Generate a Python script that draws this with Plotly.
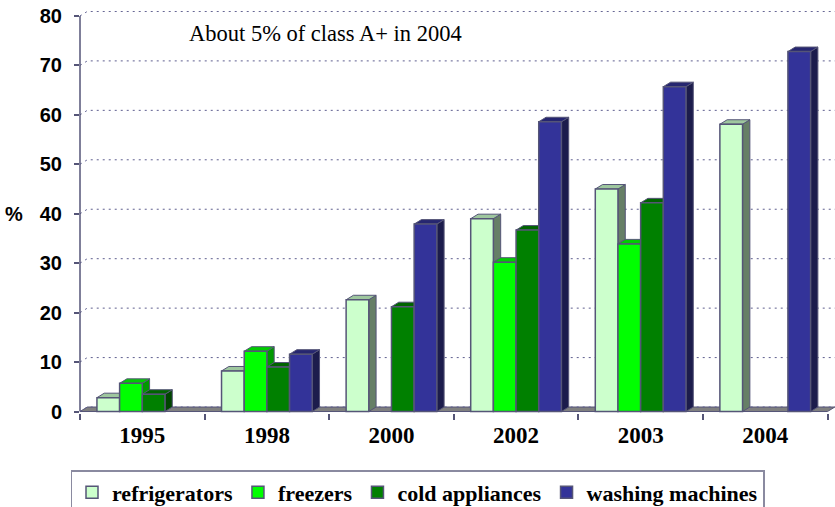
import plotly.graph_objects as go

# ---------------- data ----------------
years = ["1995", "1998", "2000", "2002", "2003", "2004"]
refrigerators = [2.8, 8.2, 22.6, 39.0, 45.0, 58.1]
freezers = [5.7, 12.2, None, 30.2, 33.9, None]
cold_appliances = [3.5, 9.0, 21.2, 36.7, 42.2, None]
washing_machines = [None, 11.6, 37.9, 58.6, 65.7, 72.8]
series_names = ["refrigerators", "freezers", "cold appliances", "washing machines"]
y_ticks = [0, 10, 20, 30, 40, 50, 60, 70, 80]
note_text = "About 5% of class A+ in 2004"
y_label = "%"

# ---------------- styles ----------------
series_values = [refrigerators, freezers, cold_appliances, washing_machines]
front_colors = ["#CCFFCC", "#00FF00", "#008000", "#333399"]
top_colors = ["#9EC79E", "#00CC00", "#006400", "#262670"]
side_colors = ["#667F66", "#009900", "#004500", "#1C1C4C"]
edge_color = "#555577"
grid_color = "#5F5F8F"
serif = "Liberation Serif, Times New Roman, serif"
sans = "Liberation Sans, Arial, sans-serif"

W, H = 835, 507
bargap = 0.272
n_series = len(series_values)
bw = (1 - bargap) / n_series          # bar width in category units
y_min, y_max = -0.3, 81
px_per_unit = 4.955
plot_left = 80
plot_w = W - plot_left
x_min = -0.5
x_max = len(years) - 0.5 + 0.06
px_per_cat = plot_w / (x_max - x_min)
dx = 7.3 / px_per_cat                  # 3D depth, horizontal (category units)
dy = 4.5 / px_per_unit                 # 3D depth, vertical (value units)
zero_px = 412
m_top = zero_px - (y_max - 0) * px_per_unit
m_bot = H - (zero_px + (0 - y_min) * px_per_unit)

fig = go.Figure()
for name, vals, fc in zip(series_names, series_values, front_colors):
    fig.add_trace(go.Bar(
        name=name, x=years, y=vals,
        marker=dict(color=fc, line=dict(color=edge_color, width=1.5)),
    ))

shapes = []
# floor
n_cat = len(years)
shapes.append(dict(
    type="path", xref="x", yref="y", layer="below",
    path=f"M {x_min},0 L {n_cat - 0.5},0 L {n_cat - 0.5 + dx},{dy} L {x_min + dx},{dy} Z",
    fillcolor="#808080", line=dict(color=edge_color, width=1),
))
# back-wall gridlines
for t in y_ticks:
    shapes.append(dict(
        type="path", xref="x", yref="y", layer="below",
        path=f"M {x_min},{t} L {x_min + dx},{t + dy} L {x_max},{t + dy}",
        line=dict(color=grid_color, width=1, dash="2px,4px"),
    ))
# top and side faces of the bars
for c in range(n_cat):
    for s, vals in enumerate(series_values):
        v = vals[c]
        if v is None:
            continue
        center = c + (s - (n_series - 1) / 2) * bw
        x0, x1 = center - bw / 2, center + bw / 2
        shapes.append(dict(
            type="path", xref="x", yref="y", layer="below",
            path=f"M {x1},0 L {x1},{v} L {x1 + dx},{v + dy} L {x1 + dx},{dy} Z",
            fillcolor=side_colors[s], line=dict(color=edge_color, width=1),
        ))
        shapes.append(dict(
            type="path", xref="x", yref="y", layer="below",
            path=f"M {x0},{v} L {x0 + dx},{v + dy} L {x1 + dx},{v + dy} L {x1},{v} Z",
            fillcolor=top_colors[s], line=dict(color=edge_color, width=1),
        ))
# y axis line (0..80)
shapes.append(dict(
    type="line", xref="paper", yref="y", x0=0, x1=0, y0=0, y1=y_ticks[-1],
    line=dict(color=edge_color, width=1.5), layer="above",
))

fig.update_layout(
    width=W, height=H,
    margin=dict(l=plot_left, r=0, t=m_top, b=m_bot, autoexpand=False),
    paper_bgcolor="white", plot_bgcolor="white",
    barmode="group", bargap=bargap, bargroupgap=0,
    shapes=shapes,
    showlegend=True,
    legend=dict(
        orientation="h", xref="container", yref="container",
        x=0.5, xanchor="center", y=1 - 470 / H, yanchor="top",
        font=dict(family=serif, size=22, color="black", weight="bold"),
        bordercolor="#8A8AA0", borderwidth=1.5, bgcolor="white",
        itemwidth=30, traceorder="normal", valign="middle",
    ),
    annotations=[
        dict(text=note_text, xref="paper", yref="y", x=(187 - plot_left) / plot_w,
             y=(zero_px - 33) / px_per_unit, xanchor="left", yanchor="middle",
             showarrow=False, font=dict(family=serif, size=22.5, color="black")),
        dict(text=y_label, xref="paper", yref="y", x=(14 - plot_left) / plot_w,
             y=40, xanchor="center", yanchor="middle", showarrow=False,
             font=dict(family=sans, size=20, color="black", weight="bold")),
    ],
)
fig.update_xaxes(
    type="category", range=[x_min, x_max], showgrid=False, showline=False,
    zeroline=False, ticks="outside", tickson="boundaries", ticklen=6,
    tickcolor=edge_color, tickwidth=1.5, ticklabelstandoff=6, automargin=False,
    tickfont=dict(family=serif, size=23, color="black", weight="bold"),
)
fig.update_yaxes(
    range=[y_min, y_max], tickvals=y_ticks, showgrid=False, showline=False,
    zeroline=False, ticks="outside", ticklen=5, tickcolor=edge_color, tickwidth=1.5,
    ticklabelstandoff=8, automargin=False,
    tickfont=dict(family=sans, size=20, color="black", weight="bold"),
)

fig.write_html("out.html", config={"displayModeBar": False},
               post_script="document.body.style.margin='0';")
